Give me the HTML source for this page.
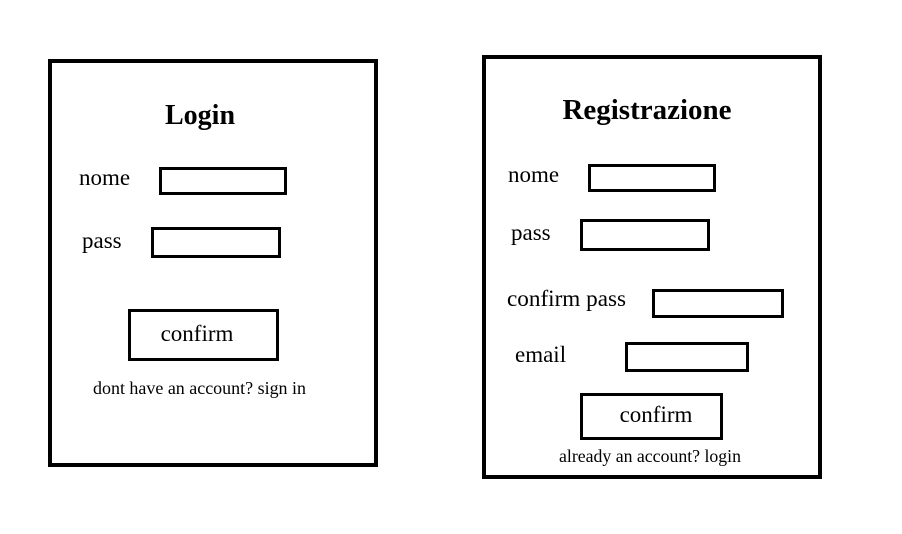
<!DOCTYPE html>
<html><head><meta charset="utf-8"><style>html,body{margin:0;padding:0;background:#fff;}svg{display:block}</style></head>
<body>
<svg width="902" height="534" viewBox="0 0 902 534" xmlns="http://www.w3.org/2000/svg" font-family="Liberation Serif, serif" fill="none" stroke="#000">
<rect x="50" y="61" width="326" height="404" stroke-width="4"/>
<rect x="484" y="57" width="336" height="420" stroke-width="4"/>
<g stroke-width="3">
<rect x="160.5" y="168.5" width="125" height="25"/>
<rect x="152.5" y="228.5" width="127" height="28"/>
<rect x="129.5" y="310.5" width="148" height="49"/>
<rect x="589.5" y="165.5" width="125" height="25"/>
<rect x="581.5" y="220.5" width="127" height="29"/>
<rect x="653.5" y="290.5" width="129" height="26"/>
<rect x="626.5" y="343.5" width="121" height="27"/>
<rect x="581.5" y="394.5" width="140" height="44"/>
</g>
<g fill="#000" stroke="none">
<text x="200" y="124" font-size="28" font-weight="bold" text-anchor="middle">Login</text>
<text x="79" y="185" font-size="23">nome</text>
<text x="82" y="248" font-size="23">pass</text>
<text x="197" y="341" font-size="23" text-anchor="middle">confirm</text>
<text x="93" y="394" font-size="17.5" textLength="213" lengthAdjust="spacingAndGlyphs">dont have an account? sign in</text>
<text x="647" y="119" font-size="29" font-weight="bold" text-anchor="middle">Registrazione</text>
<text x="508" y="182" font-size="23">nome</text>
<text x="511" y="240" font-size="23">pass</text>
<text x="507" y="306" font-size="23" textLength="119" lengthAdjust="spacingAndGlyphs">confirm pass</text>
<text x="515" y="362" font-size="23">email</text>
<text x="656" y="422" font-size="23" text-anchor="middle">confirm</text>
<text x="559" y="462" font-size="17.5" textLength="182" lengthAdjust="spacingAndGlyphs">already an account? login</text>
</g>
</svg>
</body></html>
